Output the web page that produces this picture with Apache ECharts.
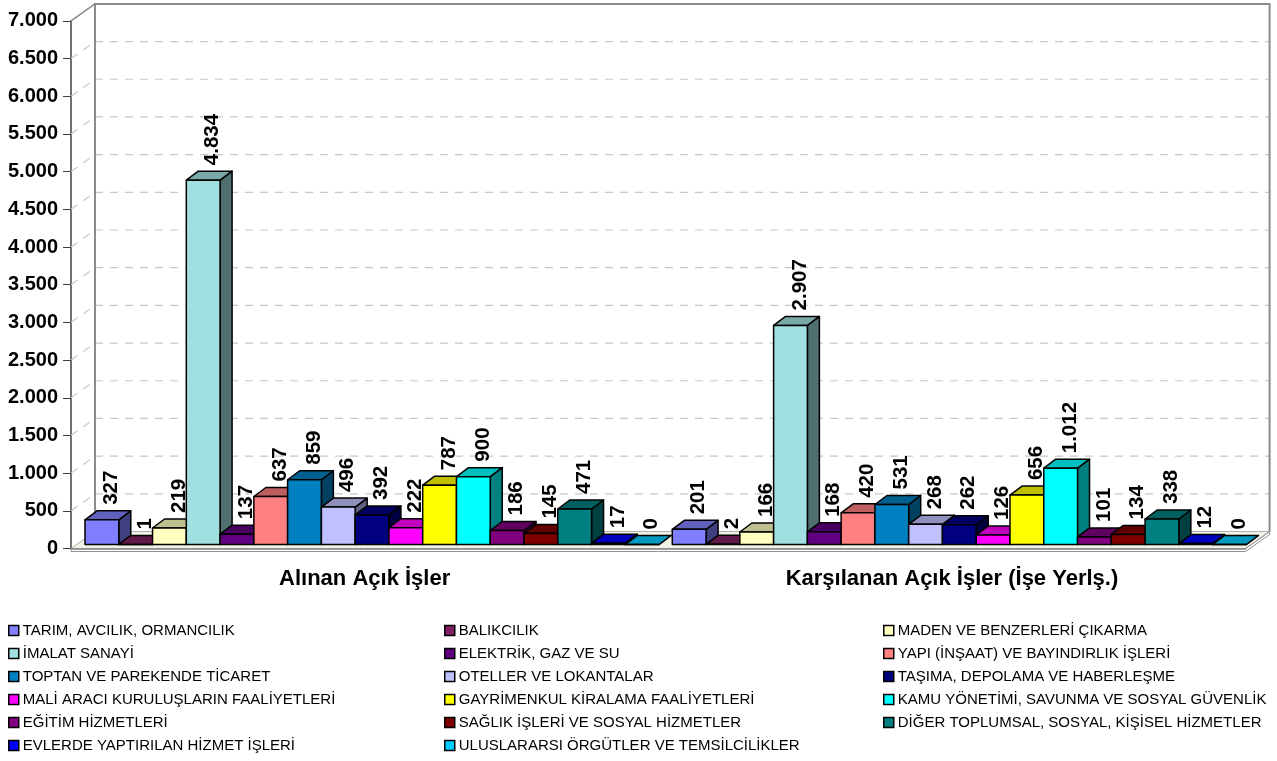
<!DOCTYPE html>
<html>
<head>
<meta charset="utf-8">
<script src="https://cdn.jsdelivr.net/npm/echarts@6/dist/echarts.min.js"></script>
<style>
  html, body { margin: 0; padding: 0; background: #fff; }
  #chart { width: 1277px; height: 761px; }
</style>
</head>
<body>
<div id="chart"></div>
<script>
// kategoriler ve sektörler
const categories = ['Alınan Açık İşler', 'Karşılanan Açık İşler (İşe Yerlş.)'];
const sectors = [
  'TARIM, AVCILIK, ORMANCILIK', 'BALIKCILIK', 'MADEN VE BENZERLERİ ÇIKARMA',
  'İMALAT SANAYİ', 'ELEKTRİK, GAZ VE SU', 'YAPI (İNŞAAT) VE BAYINDIRLIK İŞLERİ',
  'TOPTAN VE PAREKENDE TİCARET', 'OTELLER VE LOKANTALAR', 'TAŞIMA, DEPOLAMA VE HABERLEŞME',
  'MALİ ARACI KURULUŞLARIN FAALİYETLERİ', 'GAYRİMENKUL KİRALAMA FAALİYETLERİ', 'KAMU YÖNETİMİ, SAVUNMA VE SOSYAL GÜVENLİK',
  'EĞİTİM HİZMETLERİ', 'SAĞLIK İŞLERİ VE SOSYAL HİZMETLER', 'DİĞER TOPLUMSAL, SOSYAL, KİŞİSEL HİZMETLER',
  'EVLERDE YAPTIRILAN HİZMET İŞLERİ', 'ULUSLARARSI ÖRGÜTLER VE TEMSİLCİLİKLER'
];
const alinan     = [327, 1, 219, 4834, 137, 637, 859, 496, 392, 222, 787, 900, 186, 145, 471, 17, 0];
const karsilanan = [201, 2, 166, 2907, 168, 420, 531, 268, 262, 126, 656, 1012, 101, 134, 338, 12, 0];
const colors = [
  '#8080FF', '#802060', '#FFFFC0', '#A0E0E0', '#600080', '#FF8080',
  '#0080C0', '#C0C0FF', '#000080', '#FF00FF', '#FFFF00', '#00FFFF',
  '#800080', '#800000', '#008080', '#0000FF', '#00CCFF'
];
const yTicks = [0, 500, 1000, 1500, 2000, 2500, 3000, 3500, 4000, 4500, 5000, 5500, 6000, 6500, 7000];

const FONT = 'Liberation Sans, Arial, sans-serif';
const WALL_DX = 24, WALL_DY = -17;   // arka duvar derinliği
const BAR_DX = 12, BAR_DY = -9;      // sütun derinliği

function fmt(n) {
  return String(n).replace(/\B(?=(\d{3})+(?!\d))/g, '.');
}
function shade(hex, f) {
  const n = parseInt(hex.slice(1), 16);
  const r = Math.round(((n >> 16) & 255) * f);
  const g = Math.round(((n >> 8) & 255) * f);
  const b = Math.round((n & 255) * f);
  return 'rgb(' + r + ',' + g + ',' + b + ')';
}

// duvarlar, taban ve kılavuz çizgileri
function renderFrame(params, api) {
  const cs = params.coordSys;
  const x0 = cs.x, x1 = cs.x + cs.width, yt = cs.y, yb = cs.y + cs.height;
  const kids = [];
  kids.push({
    type: 'polygon',
    shape: { points: [[x0, yb], [x1, yb], [x1 + WALL_DX, yb + WALL_DY], [x0 + WALL_DX, yb + WALL_DY]] },
    style: { fill: '#F1F4E4', stroke: '#B0B0B0', lineWidth: 1 }
  });
  kids.push({
    type: 'polygon',
    shape: { points: [[x0, yb], [x1, yb], [x1 + WALL_DX, yb + WALL_DY], [x1 + WALL_DX, yb + WALL_DY + 3], [x1, yb + 3], [x0, yb + 3]] },
    style: { fill: 'none', stroke: '#909090', lineWidth: 1 }
  });
  yTicks.forEach(function (v) {
    if (v === 0) return;
    const y = api.coord([0, v])[1];
    kids.push({
      type: 'line',
      shape: { x1: x0 + WALL_DX, y1: y + WALL_DY, x2: x1 + WALL_DX, y2: y + WALL_DY },
      style: { stroke: '#C8C8C8', lineWidth: 1.2, lineDash: [8, 7] }
    });
    if (v < 7000) {
      kids.push({
        type: 'line',
        shape: { x1: x0, y1: y, x2: x0 + WALL_DX, y2: y + WALL_DY },
        style: { stroke: '#C8C8C8', lineWidth: 1.2, lineDash: [8, 7] }
      });
    }
  });
  kids.push({
    type: 'polyline',
    shape: { points: [[x0 + WALL_DX, yb + WALL_DY], [x0 + WALL_DX, yt + WALL_DY], [x1 + WALL_DX, yt + WALL_DY], [x1 + WALL_DX, yb + WALL_DY]] },
    style: { fill: 'none', stroke: '#8A8A8A', lineWidth: 2 }
  });
  kids.push({
    type: 'line',
    shape: { x1: x0, y1: yt, x2: x0 + WALL_DX, y2: yt + WALL_DY },
    style: { stroke: '#8A8A8A', lineWidth: 1.5 }
  });
  return { type: 'group', children: kids };
}

function renderBar(params, api) {
  const idx = params.seriesIndex;
  const cat = api.value(0), val = api.value(1);
  const band = api.size([1, 0])[0];
  const base = api.coord([cat, 0]);
  const top = api.coord([cat, val]);
  const bw = band * 0.0575;
  const x = base[0] - band / 2 + 5.6 + band * 0.0143 + idx * bw;
  const y0 = base[1] - 4, y1 = top[1] - 4;
  const c = colors[idx];
  const st = { stroke: '#000', lineWidth: 1.5, lineJoin: 'round' };
  return {
    type: 'group',
    children: [
      {
        type: 'polygon',
        shape: { points: [[x + bw, y1], [x + bw + BAR_DX, y1 + BAR_DY], [x + bw + BAR_DX, y0 + BAR_DY], [x + bw, y0]] },
        style: Object.assign({ fill: shade(c, 0.5) }, st)
      },
      {
        type: 'polygon',
        shape: { points: [[x, y1], [x + bw, y1], [x + bw + BAR_DX, y1 + BAR_DY], [x + BAR_DX, y1 + BAR_DY]] },
        style: Object.assign({ fill: shade(c, 0.75) }, st)
      },
      {
        type: 'rect',
        shape: { x: x, y: y1, width: bw, height: y0 - y1 },
        style: Object.assign({ fill: c }, st)
      },
      {
        type: 'text',
        x: x + bw / 2 + 9.5,
        y: y1 + BAR_DY - 6,
        rotation: Math.PI / 2,
        style: {
          text: fmt(val),
          x: 0, y: 0,
          align: 'left',
          verticalAlign: 'middle',
          fill: '#000',
          font: 'bold 20.5px ' + FONT
        }
      }
    ]
  };
}

const series = sectors.map(function (name, i) {
  return {
    name: name,
    type: 'custom',
    z: 3,
    itemStyle: { color: colors[i], borderColor: '#000', borderWidth: 1.5 },
    renderItem: renderBar,
    data: [[0, alinan[i]], [1, karsilanan[i]]]
  };
});
series.push({
  name: 'frame',
  type: 'custom',
  z: 1,
  silent: true,
  renderItem: renderFrame,
  data: [[0, 0]]
});

function legendCol(start, left) {
  const names = [];
  for (let i = start; i < sectors.length; i += 3) names.push(sectors[i]);
  return {
    data: names,
    orient: 'vertical',
    left: left,
    top: 623,
    padding: 0,
    itemGap: 8,
    itemWidth: 10,
    itemHeight: 10,
    icon: 'rect',
    selectedMode: false,
    itemStyle: { borderColor: '#000', borderWidth: 1.5 },
    textStyle: { fontFamily: FONT, fontSize: 15, color: '#000', lineHeight: 14, padding: [0, 0, 0, -1] }
  };
}

const chart = echarts.init(document.getElementById('chart'));
chart.setOption({
  animation: false,
  backgroundColor: '#fff',
  grid: { left: 71, right: 31.4, top: 20.9, bottom: 212.5 },
  legend: [legendCol(0, 8), legendCol(1, 444), legendCol(2, 883)],
  xAxis: {
    type: 'category',
    data: categories,
    axisLine: { lineStyle: { color: '#808080', width: 1.5 } },
    axisTick: { length: 8, lineStyle: { color: '#404040' } },
    axisLabel: { interval: 0, margin: 19, color: '#000', fontFamily: FONT, fontSize: 22, fontWeight: 'bold' }
  },
  yAxis: {
    type: 'value',
    min: 0,
    max: 7000,
    interval: 500,
    axisLine: { show: true, lineStyle: { color: '#404040', width: 1.5 } },
    axisTick: { show: true, length: 8, lineStyle: { color: '#404040' } },
    axisLabel: { margin: 13, color: '#000', fontFamily: FONT, fontSize: 20, fontWeight: 'bold', formatter: fmt },
    splitLine: { show: false }
  },
  series: series
});
</script>
</body>
</html>
